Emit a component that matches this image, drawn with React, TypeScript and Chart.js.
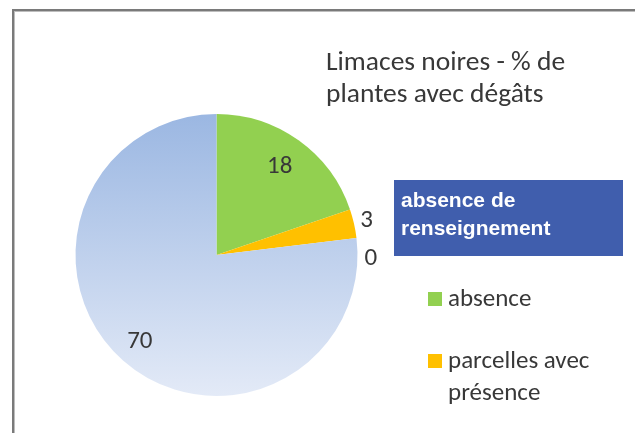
import React, { useEffect, useRef } from "react";
import { Chart, registerables } from "chart.js";

Chart.register(...registerables);

// ---- data ----
const categories = ["absence", "parcelles avec présence", "autre", "absence de renseignement"];
const values = [18, 3, 0, 70];
const sliceColors = ["#92D050", "#FFC000", "#A5A5A5", "#B4C7E7"];
const blueGradient = ["#9BB7E2", "#E3EAF7"];
const titleLines = ["Limaces noires - % de", "plantes avec dégâts"];
const boxedLegendIndex = 3;
const legendIndices = [0, 1];

const TEXT = "#383838";
const FONT = "Carlito, Lato, 'Liberation Sans', sans-serif";
const BOX_FONT = "Arial, 'Liberation Sans', sans-serif";

function wrapText(ctx: CanvasRenderingContext2D, text: string, maxW: number): string[] {
  const words = text.split(" ");
  const lines: string[] = [];
  let cur = "";
  for (const w of words) {
    const test = cur ? cur + " " + w : w;
    if (cur && ctx.measureText(test).width > maxW) {
      lines.push(cur);
      cur = w;
    } else cur = test;
  }
  if (cur) lines.push(cur);
  return lines;
}

export default function App() {
  const ref = useRef<HTMLCanvasElement>(null);

  useEffect(() => {
    const canvas = ref.current!;
    const total = values.reduce((a, b) => a + b, 0);

    const overlay = {
      id: "overlay",
      beforeDraw(chart: any) {
        const ctx: CanvasRenderingContext2D = chart.ctx;
        ctx.save();
        ctx.fillStyle = "#ffffff";
        ctx.fillRect(0, 0, chart.width, chart.height);
        // frame
        ctx.fillStyle = "#7a7a7a";
        ctx.fillRect(12, 9, chart.width, 2);
        ctx.fillRect(12, 9, 2, chart.height);
        ctx.fillStyle = "#bdbdbd";
        ctx.fillRect(14, 11, chart.width, 1);
        ctx.fillRect(14, 11, 1, chart.height);
        ctx.restore();
      },
      afterDatasetsDraw(chart: any) {
        const ctx: CanvasRenderingContext2D = chart.ctx;
        ctx.save();
        // data labels
        const meta = chart.getDatasetMeta(0);
        ctx.fillStyle = TEXT;
        ctx.font = `25px ${FONT}`;
        let lastOutsideY = -Infinity;
        meta.data.forEach((arc: any, i: number) => {
          const p = arc.getProps(["x", "y", "startAngle", "endAngle", "outerRadius"], true);
          const mid = (p.startAngle + p.endAngle) / 2;
          const frac = values[i] / total;
          const label = String(values[i]);
          if (frac > 0.1) {
            const r = p.outerRadius * (frac > 0.5 ? 0.82 : 0.77);
            ctx.textAlign = "center";
            ctx.textBaseline = "middle";
            ctx.fillText(label, p.x + r * Math.cos(mid), p.y + r * Math.sin(mid));
          } else {
            let ly = p.y + (p.outerRadius + 15) * Math.sin(mid);
            if (ly < lastOutsideY + 38) ly = lastOutsideY + 38;
            lastOutsideY = ly;
            const dy = ly - p.y;
            const R2 = p.outerRadius + 7;
            const lx = p.x + Math.sqrt(Math.max(0, R2 * R2 - dy * dy));
            ctx.textAlign = "left";
            ctx.textBaseline = "middle";
            ctx.fillText(label, lx, ly);
          }
        });

        // title
        ctx.textAlign = "left";
        ctx.textBaseline = "alphabetic";
        ctx.font = `27.5px ${FONT}`;
        titleLines.forEach((t, k) => ctx.fillText(t, 326, 70 + k * 32));

        // boxed legend entry
        ctx.fillStyle = "#405EAD";
        ctx.fillRect(394, 180, 229, 76);
        ctx.fillStyle = "#ffffff";
        ctx.font = `bold 21px ${BOX_FONT}`;
        wrapText(ctx, categories[boxedLegendIndex], 205).forEach((t, k) =>
          ctx.fillText(t, 401, 207 + k * 28.3)
        );

        // legend
        ctx.font = `25px ${FONT}`;
        let y = 306;
        legendIndices.forEach((idx) => {
          ctx.fillStyle = sliceColors[idx];
          ctx.fillRect(428, y - 14, 14, 14);
          ctx.fillStyle = TEXT;
          const lines = wrapText(ctx, categories[idx], 175);
          lines.forEach((t, k) => ctx.fillText(t, 448, y + k * 31.7));
          y += 62;
        });
        ctx.restore();
      },
    };

    const chart = new Chart(canvas, {
      type: "pie",
      data: {
        labels: categories,
        datasets: [
          {
            data: values,
            borderWidth: 0,
            backgroundColor: (c: any) => {
              const i = c.dataIndex;
              if (i !== boxedLegendIndex) return sliceColors[i];
              const area = c.chart.chartArea;
              if (!area) return sliceColors[i];
              const g = c.chart.ctx.createLinearGradient(0, area.top, 0, area.bottom);
              g.addColorStop(0, blueGradient[0]);
              g.addColorStop(1, blueGradient[1]);
              return g;
            },
          },
        ],
      },
      options: {
        responsive: false,
        animation: false,
        layout: { padding: { left: 75.5, right: 277.5, top: 114, bottom: 37 } },
        plugins: {
          legend: { display: false },
          tooltip: { enabled: false },
          title: { display: false },
        },
      },
      plugins: [overlay],
    } as any);

    return () => chart.destroy();
  }, []);

  return (
    <div style={{ position: "absolute", left: 0, top: 0, width: 635, height: 433, background: "#fff" }}>
      <canvas ref={ref} width={635} height={433} style={{ display: "block" }} />
    </div>
  );
}
